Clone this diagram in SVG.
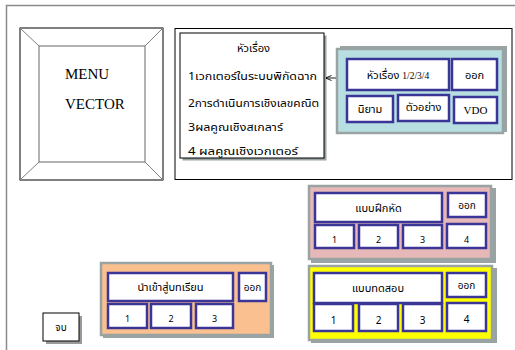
<svg xmlns="http://www.w3.org/2000/svg" width="515" height="350" viewBox="0 0 515 350">
<defs>
<style>
.th{font-family:"Noto Sans Thai","Tahoma","Noto Sans","DejaVu Sans",sans-serif;fill:#000}
.sr{font-family:"Liberation Serif",serif;fill:#000}
.btn{fill:#fff;stroke:#3b3597;stroke-width:2.5}
.panel{stroke:#9aa3a3;stroke-width:2.5}
.shadow{fill:#9aa3a3}
</style>
<marker id="ah" viewBox="0 0 6 6" refX="5.5" refY="3" markerWidth="6" markerHeight="6" orient="auto-start-reverse" markerUnits="userSpaceOnUse">
<path d="M0,0.5 L6,3 L0,5.5" fill="none" stroke="#000" stroke-width="0.9"/>
</marker>
</defs>
<rect width="515" height="350" fill="#fff"/>
<g id="frame">
<path d="M6.5,350 V5.5 H515" fill="none" stroke="#8a8a8a" stroke-width="1.5"/>
</g>
<g id="menu">
<rect x="20" y="28" width="143" height="152" fill="#fff" stroke="#000" stroke-width="1"/>
<rect x="39" y="46" width="106" height="116" fill="#fff" stroke="#808080" stroke-width="1.2"/>
<path d="M20,28 L39,46 M163,28 L145,46 M20,180 L39,162 M163,180 L145,162" stroke="#808080" stroke-width="1"/>
<text class="sr" x="65" y="79" font-size="15">MENU</text>
<text class="sr" x="65" y="109" font-size="15">VECTOR</text>
</g>
<g id="content">
<rect x="175" y="28.5" width="337" height="151" fill="#fff" stroke="#000" stroke-width="1"/>
</g>
<g id="topics">
<rect x="182.5" y="35.5" width="144" height="125" class="shadow"/>
<rect x="180" y="33" width="144" height="125" fill="#fff" stroke="#000" stroke-width="1"/>
<text class="th" x="237" y="52" font-size="11" textLength="33" lengthAdjust="spacingAndGlyphs">หัวเรื่อง</text>
<text class="th" x="188" y="80" font-size="11" textLength="129" lengthAdjust="spacingAndGlyphs">1เวกเตอร์ในระบบพิกัดฉาก</text>
<text class="th" x="188" y="107" font-size="11" textLength="131" lengthAdjust="spacingAndGlyphs">2การดำเนินการเชิงเลขคณิต</text>
<text class="th" x="188" y="131" font-size="11" textLength="95" lengthAdjust="spacingAndGlyphs">3ผลคูณเชิงสเกลาร์</text>
<text class="th" x="188" y="155" font-size="11" textLength="110" lengthAdjust="spacingAndGlyphs">4 ผลคูณเชิงเวกเตอร์</text>
</g>
<g id="connectors">
<line x1="326" y1="78" x2="342" y2="78" stroke="#000" stroke-width="0.9" marker-start="url(#ah)" marker-end="url(#ah)"/>
</g>
<g id="lesson-menu">
<rect x="340" y="46" width="167" height="86" class="shadow"/>
<rect x="337" y="49" width="166" height="84" fill="#b7dfe2" class="panel"/>
<rect x="347" y="59" width="102" height="31" class="btn"/>
<text x="398" y="79" font-size="11" text-anchor="middle"><tspan class="th">หัวเรื่อง </tspan><tspan class="sr" font-size="9.5">1/2/3/4</tspan></text>
<rect x="452" y="59" width="45" height="31" class="btn"/>
<text class="th" x="474.5" y="79" font-size="11" text-anchor="middle">ออก</text>
<rect x="347" y="96" width="46" height="26" class="btn"/>
<text class="th" x="370" y="113" font-size="11" text-anchor="middle">นิยาม</text>
<rect x="398" y="95" width="51" height="26" class="btn"/>
<text class="th" x="423.5" y="111" font-size="11" text-anchor="middle">ตัวอย่าง</text>
<rect x="454" y="97" width="43" height="26" class="btn"/>
<text class="sr" x="475.5" y="114" font-size="11" text-anchor="middle">VDO</text>
</g>
<g id="exercise">
<rect x="311" y="188" width="185" height="75" class="shadow"/>
<rect x="309" y="186" width="182" height="73" fill="#e6b8b7" class="panel"/>
<rect x="315" y="193" width="127" height="29" class="btn"/>
<text class="th" x="378.5" y="212" font-size="11" text-anchor="middle">แบบฝึกหัด</text>
<rect x="448" y="193" width="38" height="24" class="btn"/>
<text class="th" x="467" y="209" font-size="10" text-anchor="middle">ออก</text>
<rect x="315" y="225" width="39" height="23" class="btn"/>
<text class="th" x="334.5" y="243" font-size="9" text-anchor="middle">1</text>
<rect x="359" y="225" width="39" height="23" class="btn"/>
<text class="th" x="378.5" y="243" font-size="9" text-anchor="middle">2</text>
<rect x="403" y="225" width="39" height="23" class="btn"/>
<text class="th" x="422.5" y="243" font-size="9" text-anchor="middle">3</text>
<rect x="447" y="224" width="39" height="24" class="btn"/>
<text class="th" x="466.5" y="243" font-size="9" text-anchor="middle">4</text>
</g>
<g id="test">
<rect x="311" y="268" width="186" height="75" class="shadow"/>
<rect x="309" y="266" width="183" height="74" fill="#ffff00" class="panel"/>
<rect x="314" y="273" width="128" height="30" class="btn"/>
<text class="th" x="378" y="292" font-size="11" text-anchor="middle">แบบทดสอบ</text>
<rect x="447" y="273" width="39" height="24" class="btn"/>
<text class="th" x="466.5" y="289" font-size="10" text-anchor="middle">ออก</text>
<rect x="314" y="304" width="39" height="27" class="btn"/>
<text class="th" x="333.5" y="324" font-size="10" text-anchor="middle">1</text>
<rect x="359" y="304" width="39" height="27" class="btn"/>
<text class="th" x="378.5" y="324" font-size="10" text-anchor="middle">2</text>
<rect x="403" y="304" width="39" height="27" class="btn"/>
<text class="th" x="422.5" y="324" font-size="10" text-anchor="middle">3</text>
<rect x="447" y="303" width="39" height="28" class="btn"/>
<text class="th" x="466.5" y="323" font-size="10" text-anchor="middle">4</text>
</g>
<g id="intro">
<rect x="103" y="265" width="171" height="73" class="shadow"/>
<rect x="101" y="263" width="170" height="72" fill="#fac090" class="panel"/>
<rect x="108" y="273" width="125" height="28" class="btn"/>
<text class="th" x="170.5" y="291" font-size="11" text-anchor="middle">นำเข้าสู่บทเรียน</text>
<rect x="239" y="273" width="27" height="28" class="btn"/>
<text class="th" x="252.5" y="291" font-size="10" text-anchor="middle">ออก</text>
<rect x="108" y="304" width="39" height="24" class="btn"/>
<text class="th" x="127.5" y="322" font-size="9" text-anchor="middle">1</text>
<rect x="151" y="304" width="40" height="24" class="btn"/>
<text class="th" x="171" y="322" font-size="9" text-anchor="middle">2</text>
<rect x="196" y="304" width="37" height="24" class="btn"/>
<text class="th" x="214.5" y="322" font-size="9" text-anchor="middle">3</text>
</g>
<g id="end">
<rect x="46" y="316" width="36" height="28" fill="#9a9a9a"/>
<rect x="43" y="313" width="36" height="28" fill="#fff" stroke="#000" stroke-width="1"/>
<text class="th" x="61" y="331" font-size="10" text-anchor="middle">จบ</text>
</g>
</svg>
